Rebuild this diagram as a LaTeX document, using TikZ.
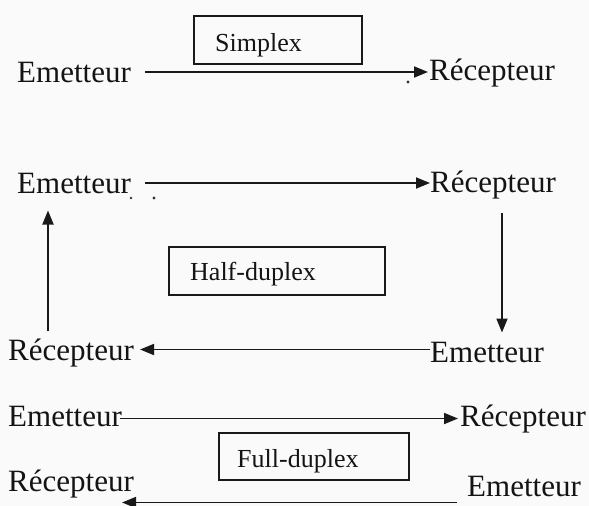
\documentclass[tikz,border=0pt]{standalone}
\usepackage{fontspec}
\setmainfont{Liberation Serif}
\usetikzlibrary{arrows.meta,calc}
\tikzset{
  word/.style={inner sep=0pt, anchor=base west, font=\fontsize{31}{36}\selectfont, text=black!92},
  modetext/.style={inner sep=0pt, anchor=base west, font=\fontsize{26}{30}\selectfont, text=black!92},
  modebox/.style={draw=black!90, line width=1.5pt, inner sep=0pt, anchor=north west},
  arr/.style={draw=black!90, line width=1.8pt, -{Triangle[length=14pt,width=11pt]}},
  speck/.style={fill=black!80, draw=none, circle, inner sep=0pt, minimum size=3.2pt}
}
\begin{document}
\begin{tikzpicture}[x=1pt,y=-1pt]
\useasboundingbox[fill=black!2] (0,0) rectangle (589,506);

% ---------- Simplex ----------
\node[modebox, minimum width=168pt, minimum height=48pt] (sbox) at (193,15) {};
\node[modetext] (stext) at (215,51) {Simplex};
\node[word] (e1) at (17,82) {Emetteur};
\node[word] (r1) at (429,80) {Récepteur};
\draw[arr] ([xshift=14pt]e1.east) -- ([xshift=-1pt]e1.east -| r1.west);
\node[speck] (d1) at (408,82) {};

% ---------- Half-duplex ----------
\node[word] (e2) at (17,193) {Emetteur};
\node[word] (r2) at (430,192) {Récepteur};
\node[word] (r3) at (8,360) {Récepteur};
\node[word] (e3) at (430,362) {Emetteur};
\node[modebox, minimum width=216pt, minimum height=48pt] (hbox) at (168,246) {};
\node[modetext] (htext) at (190,280) {Half-duplex};
\coordinate (ux) at (48,0);
\coordinate (dx) at (502,0);
\draw[arr] ([xshift=14pt]e2.east) -- (e2.east -| r2.west);
\draw[arr] ($(dx |- r2.south)+(0,-14pt)$) -- ($(dx |- e3.north)+(0,9pt)$);
\draw[arr] ($(e3.west)+(0,2.5pt)$) -- ($(r3.east |- e3.west)+(6pt,2.5pt)$);
\draw[arr] ($(ux |- r3.north)+(0,7pt)$) -- ($(ux |- e2.south)+(0,-17pt)$);
\node[speck, minimum size=2.6pt] (d2) at (131,198) {};
\node[speck] (d3) at (154,198) {};

% ---------- Full-duplex ----------
\node[word] (e4) at (8,426) {Emetteur};
\node[word] (r4) at (460,426) {Récepteur};
\node[modebox, minimum width=190pt, minimum height=47pt] (fbox) at (218,432) {};
\node[modetext] (ftext) at (237,467) {Full-duplex};
\node[word] (r5) at (8,491) {Récepteur};
\node[word] (e5) at (467,496) {Emetteur};
\draw[arr] ($(e4.east |- r4.west)+(-2pt,0)$) -- ($(r4.west)+(-2pt,0)$);
\draw[arr] ($(e5.south west)+(-10pt,-6pt)$) -- ($(r5.east |- e5.south)+(-12pt,-6pt)$);
\end{tikzpicture}
\end{document}
